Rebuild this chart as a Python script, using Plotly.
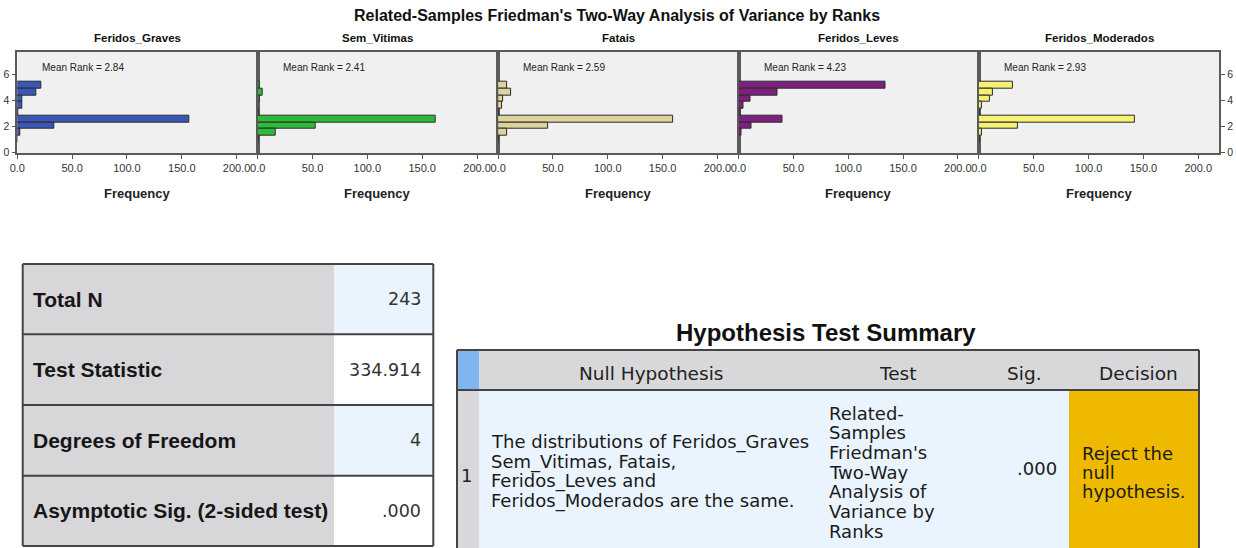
import plotly.graph_objects as go

W, H = 1236, 548

# ---------------- data ----------------
chart_title = "Related-Samples Friedman's Two-Way Analysis of Variance by Ranks"
variables = ["Feridos_Graves", "Sem_Vitimas", "Fatais", "Feridos_Leves", "Feridos_Moderados"]
mean_ranks = [2.84, 2.41, 2.59, 4.23, 2.93]
rank_bins = [5.15, 4.63, 4.11, 3.59, 3.07, 2.55, 2.03, 1.51, 0.99]
freq_feridos_graves = [22, 17, 5, 5, 1, 157, 34, 3, 0]
freq_sem_vitimas = [2, 5, 2, 0, 1, 162, 53, 16, 1]
freq_fatais = [8, 12, 5, 4, 1, 160, 46, 8, 1]
freq_feridos_leves = [134, 36, 11, 5, 2, 40, 12, 3, 0]
freq_feridos_moderados = [31, 13, 10, 3, 1, 142, 36, 3, 1]
bar_colors = ["#3A56B6", "#2DBB3A", "#DDD49C", "#7E207E", "#F6F173"]
x_ticks = [0, 50, 100, 150, 200]
y_ticks = [0, 2, 4, 6]

stat_labels = ["Total N", "Test Statistic", "Degrees of Freedom", "Asymptotic Sig. (2-sided test)"]
stat_values = ["243", "334.914", "4", ".000"]

summary_title = "Hypothesis Test Summary"
summary_headers = ["Null Hypothesis", "Test", "Sig.", "Decision"]
row_number = "1"
null_hypothesis_lines = ["The distributions of Feridos_Graves", "Sem_Vitimas, Fatais,",
                         "Feridos_Leves and", "Feridos_Moderados are the same."]
test_lines = ["Related-", "Samples", "Friedman's", "Two-Way", "Analysis of", "Variance by", "Ranks"]
sig_value = ".000"
decision_lines = ["Reject the", "null", "hypothesis."]

freqs = [freq_feridos_graves, freq_sem_vitimas, freq_fatais, freq_feridos_leves, freq_feridos_moderados]

FONT = "Liberation Sans, Arial, sans-serif"
FONT2 = "DejaVu Sans, Verdana, sans-serif"


def px(x):
    return x / W


def py(y):
    return 1 - y / H


fig = go.Figure()
annotations = []
shapes = []


def text(x, y, s, size, color="#222", bold=False, xanchor="left", family=FONT):
    annotations.append(dict(
        x=px(x), y=py(y), xref="paper", yref="paper", text=s, showarrow=False,
        xanchor=xanchor, yanchor="middle",
        font=dict(size=size, color=color, family=family, weight="bold" if bold else "normal"),
    ))


def rect(x0, y0, x1, y1, fill, line="rgba(0,0,0,0)", lw=0):
    shapes.append(dict(type="rect", xref="paper", yref="paper", x0=px(x0), x1=px(x1),
                       y0=py(y1), y1=py(y0), fillcolor=fill, line=dict(color=line, width=lw),
                       layer="below"))


def hline(x0, x1, y, color="#444", lw=2):
    shapes.append(dict(type="line", xref="paper", yref="paper", x0=px(x0), x1=px(x1),
                       y0=py(y), y1=py(y), line=dict(color=color, width=lw)))


def vline(x, y0, y1, color="#444", lw=2):
    shapes.append(dict(type="line", xref="paper", yref="paper", x0=px(x), x1=px(x),
                       y0=py(y0), y1=py(y1), line=dict(color=color, width=lw)))


# ---------------- histograms ----------------
panel_left = 17.3
panel_w = 240.4
plot_top, plot_bot = 51.7, 153.3
layout_axes = {}
for i, (name, mr, fr, col) in enumerate(zip(variables, mean_ranks, freqs, bar_colors)):
    k = "" if i == 0 else str(i + 1)
    x0 = panel_left + panel_w * i
    x1 = x0 + panel_w
    fig.add_trace(go.Bar(
        x=fr, y=rank_bins, orientation="h", width=0.52,
        marker=dict(color=col, line=dict(color="#2a2a2a", width=1)),
        xaxis="x" + k, yaxis="y" + k, showlegend=False, hoverinfo="skip",
    ))
    layout_axes["xaxis" + k] = dict(
        domain=[px(x0), px(x1)], range=[0, 219.2], anchor="y" + k, automargin=False,
        tickvals=x_ticks, ticktext=[f"{v:.1f}" for v in x_ticks],
        ticks="outside", ticklen=4, tickcolor="#555", showline=True, mirror=True,
        linecolor="#5a5a5a", linewidth=1.5, showgrid=False, zeroline=False,
        tickfont=dict(size=11, color="#333", family=FONT),
    )
    yax = dict(
        domain=[py(plot_bot), py(plot_top)], range=[-0.08, 7.71], anchor="x" + k, automargin=False,
        showline=True, mirror=True, linecolor="#5a5a5a", linewidth=1.5,
        showgrid=False, zeroline=False, tickvals=y_ticks,
        tickfont=dict(size=10.5, color="#333", family=FONT),
    )
    if i == 0:
        yax.update(ticks="outside", ticklen=4, tickcolor="#555", showticklabels=True)
    elif i == 4:
        yax.update(ticks="outside", ticklen=4, tickcolor="#555", showticklabels=True, side="right")
    else:
        yax.update(ticks="", showticklabels=False)
    layout_axes["yaxis" + k] = yax
    cx = (x0 + x1) / 2
    text(cx, 38, name, 11.5, "#111", True, "center")
    text(cx, 194, "Frequency", 13, "#222", True, "center")
    text(x0 + 23, 68, f"Mean Rank = {mr:.2f}", 10, "#222", False, "left")

text(617, 16, chart_title, 16, "#111", True, "center")

# ---------------- left statistics table ----------------
tl, tr, tsplit = 22.7, 433.3, 334.3
row_edges = [264, 334.3, 405, 475.7, 546]
for r in range(4):
    y0, y1 = row_edges[r], row_edges[r + 1]
    rect(tl, y0, tsplit, y1, "#D7D7D9")
    rect(tsplit, y0, tr, y1, "#EAF4FE" if r % 2 == 0 else "#FFFFFF")
    cy = (y0 + y1) / 2
    text(31, cy, stat_labels[r], 21, "#161616", True, "left")
    text(423, cy, stat_values[r], 17.5, "#333", False, "right", FONT2)
for y in row_edges:
    hline(tl, tr, y, "#444", 2)
vline(tl, row_edges[0], row_edges[-1], "#444", 2)
vline(tr, row_edges[0], row_edges[-1], "#444", 2)

# ---------------- hypothesis test summary ----------------
text(826, 332, summary_title, 24, "#111", True, "center")
L, R = 457, 1199
hy0, hy1, by1 = 350, 390, 549
col_num, col_dec = 479, 1069
rect(L, hy0, R, hy1, "#D8D8DA")
rect(L, hy0, col_num, hy1, "#80B5F0")
rect(L, hy1, col_num, by1, "#D8D8DA")
rect(col_num, hy1, col_dec, by1, "#EAF4FE")
rect(col_dec, hy1, R, by1, "#EFB900")
hline(L, R, hy0, "#444", 2)
hline(L, R, hy1, "#444", 2)
vline(L, hy0, by1, "#444", 2)
vline(R, hy0, by1, "#444", 2)

for s, x in zip(summary_headers, [651, 897, 1024, 1138]):
    text(x, 373, s, 18.5, "#222", False, "center", FONT2)
text(466, 475, row_number, 18, "#222", False, "center", FONT2)
for j, s in enumerate(null_hypothesis_lines):
    text(489, 442 + 19.7 * j, s, 18, "#1a1a1a", False, "left", FONT2)
for j, s in enumerate(test_lines):
    text(827, 413 + 19.7 * j, s, 18, "#1a1a1a", False, "left", FONT2)
text(1059, 468, sig_value, 18, "#1a1a1a", False, "right", FONT2)
for j, s in enumerate(decision_lines):
    text(1080, 453 + 19.3 * j, s, 18, "#1a1a1a", False, "left", FONT2)

fig.update_layout(
    width=W, height=H, margin=dict(l=0, r=0, t=0, b=0, autoexpand=False),
    paper_bgcolor="white", plot_bgcolor="#F0F0F0",
    bargap=0, annotations=annotations, shapes=shapes, **layout_axes,
)
fig.write_html("out.html", config={"displayModeBar": False},
               post_script="document.body.style.margin='0';document.body.style.overflow='hidden';")
